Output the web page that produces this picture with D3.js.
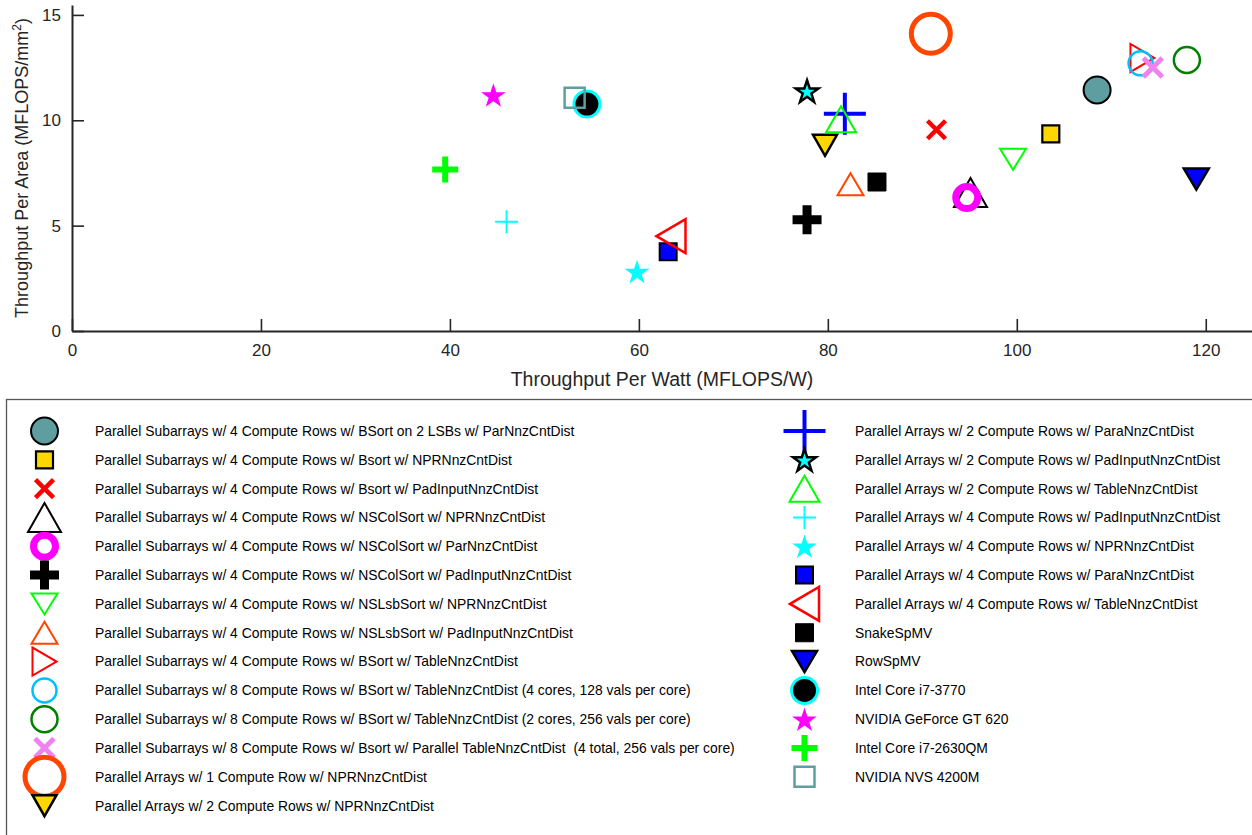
<!DOCTYPE html>
<html>
<head>
<meta charset="utf-8">
<script src="https://cdn.jsdelivr.net/npm/d3@7"></script>
<style>
  html, body { margin: 0; padding: 0; background: #fff; }
  svg { display: block; font-family: "Liberation Sans", Arial, Helvetica, sans-serif; }
  .legend-label { white-space: pre; }
</style>
</head>
<body>
<svg id="chart" width="1252" height="835"></svg>
<script>
// Series names (legend order)
const seriesNames = [
  "Parallel Subarrays w/ 4 Compute Rows w/ BSort on 2 LSBs w/ ParNnzCntDist",
  "Parallel Subarrays w/ 4 Compute Rows w/ Bsort w/ NPRNnzCntDist",
  "Parallel Subarrays w/ 4 Compute Rows w/ Bsort w/ PadInputNnzCntDist",
  "Parallel Subarrays w/ 4 Compute Rows w/ NSColSort w/ NPRNnzCntDist",
  "Parallel Subarrays w/ 4 Compute Rows w/ NSColSort w/ ParNnzCntDist",
  "Parallel Subarrays w/ 4 Compute Rows w/ NSColSort w/ PadInputNnzCntDist",
  "Parallel Subarrays w/ 4 Compute Rows w/ NSLsbSort w/ NPRNnzCntDist",
  "Parallel Subarrays w/ 4 Compute Rows w/ NSLsbSort w/ PadInputNnzCntDist",
  "Parallel Subarrays w/ 4 Compute Rows w/ BSort w/ TableNnzCntDist",
  "Parallel Subarrays w/ 8 Compute Rows w/ BSort w/ TableNnzCntDist (4 cores, 128 vals per core)",
  "Parallel Subarrays w/ 8 Compute Rows w/ BSort w/ TableNnzCntDist (2 cores, 256 vals per core)",
  "Parallel Subarrays w/ 8 Compute Rows w/ Bsort w/ Parallel TableNnzCntDist  (4 total, 256 vals per core)",
  "Parallel Arrays w/ 1 Compute Row w/ NPRNnzCntDist",
  "Parallel Arrays w/ 2 Compute Rows w/ NPRNnzCntDist",
  "Parallel Arrays w/ 2 Compute Rows w/ ParaNnzCntDist",
  "Parallel Arrays w/ 2 Compute Rows w/ PadInputNnzCntDist",
  "Parallel Arrays w/ 2 Compute Rows w/ TableNnzCntDist",
  "Parallel Arrays w/ 4 Compute Rows w/ PadInputNnzCntDist",
  "Parallel Arrays w/ 4 Compute Rows w/ NPRNnzCntDist",
  "Parallel Arrays w/ 4 Compute Rows w/ ParaNnzCntDist",
  "Parallel Arrays w/ 4 Compute Rows w/ TableNnzCntDist",
  "SnakeSpMV",
  "RowSpMV",
  "Intel Core i7-3770",
  "NVIDIA GeForce GT 620",
  "Intel Core i7-2630QM",
  "NVIDIA NVS 4200M"
];

// Throughput per watt (MFLOPS/W)
const throughputPerWatt = [
  108.5, 103.6, 91.5, 95.1, 94.7, 77.8, 99.6, 82.4, 113.3, 113.1, 118.0, 114.4, 90.9, 79.7,
  81.8, 77.8, 81.4, 46.0, 59.8, 63.1, 63.4, 85.2, 119.0, 54.5, 44.6, 39.5, 53.2
];

// Throughput per area (MFLOPS/mm^2)
const throughputPerArea = [
  11.44, 9.35, 9.55, 6.57, 6.33, 5.28, 8.15, 6.96, 12.96, 12.70, 12.86, 12.50, 14.11, 8.81,
  10.31, 11.39, 10.05, 5.19, 2.82, 3.76, 4.50, 7.07, 7.21, 10.77, 11.20, 7.66, 11.07
];

const xTicks = [0, 20, 40, 60, 80, 100, 120];
const yTicks = [0, 5, 10, 15];

// Marker styles: shape, width, height, fill, stroke, stroke width
const markerStyles = [
  { shape: "circle",   w: 27, h: 27, fill: "#5f9ea0", stroke: "#000",    sw: 2 },
  { shape: "square",   w: 17, h: 17, fill: "#ffd700", stroke: "#000",    sw: 2.2 },
  { shape: "x",        w: 18, h: 18, fill: "none",    stroke: "#ff0000", sw: 4.5 },
  { shape: "up",       w: 33, h: 29, fill: "none",    stroke: "#000",    sw: 2 },
  { shape: "circle",   w: 22, h: 22, fill: "none",    stroke: "#ff00ff", sw: 7 },
  { shape: "plus",     w: 29, h: 29, fill: "none",    stroke: "#000",    sw: 9 },
  { shape: "down",     w: 26, h: 21, fill: "none",    stroke: "#00ff00", sw: 2 },
  { shape: "up",       w: 26, h: 22, fill: "none",    stroke: "#ff4500", sw: 2 },
  { shape: "right",    w: 24, h: 28, fill: "none",    stroke: "#ff0000", sw: 2 },
  { shape: "circle",   w: 24, h: 24, fill: "none",    stroke: "#00bfff", sw: 2.5 },
  { shape: "circle",   w: 26, h: 26, fill: "none",    stroke: "#008000", sw: 2.5 },
  { shape: "x",        w: 19, h: 19, fill: "none",    stroke: "#ee82ee", sw: 5 },
  { shape: "circle",   w: 39, h: 39, fill: "none",    stroke: "#ff4500", sw: 5 },
  { shape: "down",     w: 24, h: 21, fill: "#ffd700", stroke: "#000",    sw: 2.5 },
  { shape: "plus",     w: 42, h: 42, fill: "none",    stroke: "#0000ff", sw: 4 },
  { shape: "star",     w: 24, h: 24, fill: "#00ffff", stroke: "#000",    sw: 2.5 },
  { shape: "up",       w: 30, h: 26, fill: "none",    stroke: "#00ff00", sw: 2 },
  { shape: "plus",     w: 23, h: 23, fill: "none",    stroke: "#00ffff", sw: 2 },
  { shape: "star",     w: 26, h: 26, fill: "#00ffff", stroke: "none",    sw: 0 },
  { shape: "square",   w: 17, h: 17, fill: "#0000ff", stroke: "#000",    sw: 2 },
  { shape: "left",     w: 29, h: 34, fill: "none",    stroke: "#ff0000", sw: 2.5 },
  { shape: "square",   w: 18, h: 18, fill: "#000",    stroke: "#000",    sw: 1 },
  { shape: "down",     w: 25, h: 21, fill: "#0000ff", stroke: "#000",    sw: 2.5 },
  { shape: "circle",   w: 26, h: 26, fill: "#000",    stroke: "#00ffff", sw: 3 },
  { shape: "star",     w: 26, h: 26, fill: "#ff00ff", stroke: "none",    sw: 0 },
  { shape: "plus",     w: 26, h: 26, fill: "none",    stroke: "#00ff00", sw: 6 },
  { shape: "square",   w: 20, h: 20, fill: "none",    stroke: "#5f9ea0", sw: 2.5 }
];

// Path for a marker centred on (0,0)
function markerPath(s) {
  const w = s.w, h = s.h, hw = w / 2, hh = h / 2;
  switch (s.shape) {
    case "circle": {
      const r = hw;
      return `M${r},0A${r},${r} 0 1,1 ${-r},0A${r},${r} 0 1,1 ${r},0Z`;
    }
    case "square": return `M${-hw},${-hh}H${hw}V${hh}H${-hw}Z`;
    case "x": return `M${-hw},${-hh}L${hw},${hh}M${hw},${-hh}L${-hw},${hh}`;
    case "plus": return `M${-hw},0H${hw}M0,${-hh}V${hh}`;
    case "up": return `M0,${-hh}L${hw},${hh}L${-hw},${hh}Z`;
    case "down": return `M0,${hh}L${hw},${-hh}L${-hw},${-hh}Z`;
    case "right": return `M${hw},0L${-hw},${hh}L${-hw},${-hh}Z`;
    case "left": return `M${-hw},0L${hw},${-hh}L${hw},${hh}Z`;
    case "star": {
      const R = hw, r = R * 0.382;
      const pts = [];
      for (let i = 0; i < 10; i++) {
        const a = -Math.PI / 2 + i * Math.PI / 5;
        const rad = i % 2 === 0 ? R : r;
        pts.push([rad * Math.cos(a), rad * Math.sin(a) + R * 0.1]);
      }
      return "M" + pts.map(p => p[0].toFixed(2) + "," + p[1].toFixed(2)).join("L") + "Z";
    }
  }
}

const svg = d3.select("#chart");
const plot = { left: 72, right: 1253, top: 5, bottom: 331 };

const x = d3.scaleLinear().domain([0, 125]).range([plot.left, plot.right]);
const y = d3.scaleLinear().domain([0, 15.47]).range([plot.bottom, plot.top]);

// Axes with inward ticks, MATLAB style
const xAxis = svg.append("g")
  .attr("transform", `translate(0,${plot.bottom})`)
  .call(d3.axisBottom(x).tickValues(xTicks).tickFormat(d3.format("d"))
    .tickSizeInner(-12).tickSizeOuter(0).tickPadding(13));
const yAxis = svg.append("g")
  .attr("transform", `translate(${plot.left},0)`)
  .call(d3.axisLeft(y).tickValues(yTicks).tickFormat(d3.format("d"))
    .tickSizeInner(-12).tickSizeOuter(0).tickPadding(11));

[xAxis, yAxis].forEach(g => {
  g.select(".domain").attr("stroke", "#262626").attr("stroke-width", 2);
  g.selectAll(".tick line").attr("stroke", "#262626").attr("stroke-width", 1.6);
  g.selectAll(".tick text").attr("fill", "#262626")
    .style("font-size", "17px").style("font-family", "'Liberation Sans', Arial, sans-serif");
});

// Axis titles
svg.append("text")
  .attr("x", (plot.left + 1252) / 2).attr("y", 386)
  .attr("text-anchor", "middle").attr("fill", "#262626")
  .style("font-size", "19.5px")
  .text("Throughput Per Watt (MFLOPS/W)");

const yTitle = svg.append("text")
  .attr("transform", `translate(28,${(plot.top + plot.bottom) / 2}) rotate(-90)`)
  .attr("text-anchor", "middle").attr("fill", "#262626")
  .style("font-size", "18px");
yTitle.append("tspan").text("Throughput Per Area (MFLOPS/mm");
yTitle.append("tspan").attr("dy", -7).style("font-size", "12px").text("2");
yTitle.append("tspan").attr("dy", 7).text(")");

// Data points
const points = seriesNames.map((name, i) => ({
  name, x: throughputPerWatt[i], y: throughputPerArea[i], style: markerStyles[i]
}));

svg.append("g").selectAll("path")
  .data(points)
  .join("path")
  .attr("transform", d => `translate(${x(d.x)},${y(d.y)})`)
  .attr("d", d => markerPath(d.style))
  .attr("fill", d => d.style.fill)
  .attr("stroke", d => d.style.stroke)
  .attr("stroke-width", d => d.style.sw)
  .attr("stroke-linejoin", "miter");

// Legend box
const legend = svg.append("g");
legend.append("rect")
  .attr("x", 6.5).attr("y", 399.5).attr("width", 1260).attr("height", 460)
  .attr("fill", "#fff").attr("stroke", "#555").attr("stroke-width", 1.3);

const rowsLeft = 14;
const rowStep = 28.82;
const legendItems = legend.selectAll("g.item")
  .data(points)
  .join("g")
  .attr("class", "item")
  .attr("transform", (d, i) => {
    const col = i < rowsLeft ? 0 : 1;
    const row = col === 0 ? i : i - rowsLeft;
    return `translate(${col === 0 ? 0 : 760},${431 + row * rowStep})`;
  });

legendItems.append("path")
  .attr("transform", "translate(44.5,0)")
  .attr("d", d => markerPath(d.style))
  .attr("fill", d => d.style.fill)
  .attr("stroke", d => d.style.stroke)
  .attr("stroke-width", d => d.style.sw);

legendItems.append("text")
  .attr("class", "legend-label")
  .attr("x", 95).attr("dy", "0.35em")
  .attr("fill", "#000")
  .style("font-size", "13.9px")
  .text(d => d.name);
</script>
</body>
</html>
